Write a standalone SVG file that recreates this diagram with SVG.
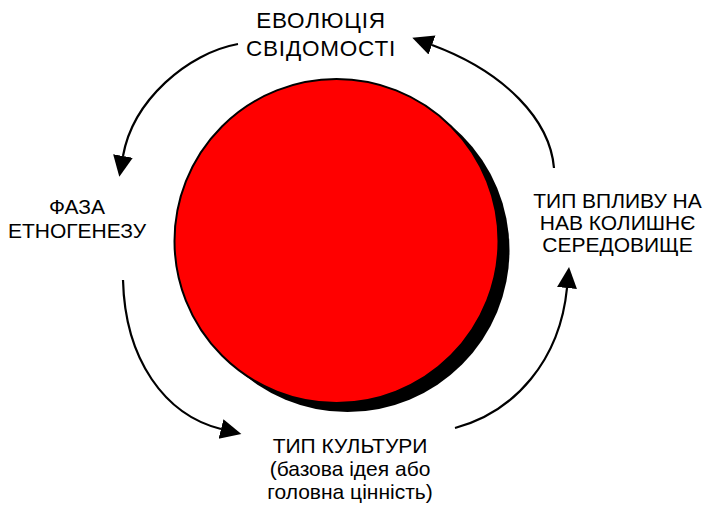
<svg xmlns="http://www.w3.org/2000/svg" width="706" height="506" viewBox="0 0 706 506">
<style>
.t{font-family:"Liberation Sans",Arial,sans-serif;font-size:21px;fill:#000;text-anchor:middle}
.top{font-size:22.5px;letter-spacing:0.8px}
.c{fill:none;stroke:#000;stroke-width:2.2}
</style>
<defs>
<marker id="ah" markerUnits="userSpaceOnUse" markerWidth="22" markerHeight="22" refX="0" refY="10" orient="auto" viewBox="0 0 22 20">
<path d="M0,0 L21,10 L0,20 z" fill="#000"/>
</marker>
</defs>
<rect width="706" height="506" fill="#fff"/>
<g id="center">
<circle cx="347.5" cy="250" r="162" fill="#000"/>
<circle cx="336.5" cy="241" r="162" fill="#ff0000" stroke="#000" stroke-width="2"/>
</g>
<g id="connectors">
<path class="c" d="M238,44 C188,53 133,100 123,156" marker-end="url(#ah)"/>
<path class="c" d="M554,168 C550,120 505,72 432,45" marker-end="url(#ah)"/>
<path class="c" d="M123,280 C125,360 165,415 221,429" marker-end="url(#ah)"/>
<path class="c" d="M455,428 C515,412 560,360 567,288" marker-end="url(#ah)"/>
</g>
<g id="n-evolution">
<text class="t top" x="321" y="28">ЕВОЛЮЦІЯ</text>
<text class="t top" x="321" y="56">СВІДОМОСТІ</text>
</g>
<g id="n-phase">
<text class="t" x="77" y="214">ФАЗА</text>
<text class="t" x="77" y="237.5">ЕТНОГЕНЕЗУ</text>
</g>
<g id="n-influence">
<text class="t" x="617.5" y="207.5">ТИП ВПЛИВУ НА</text>
<text class="t" x="617.5" y="229.5">НАВ КОЛИШНЄ</text>
<text class="t" x="617.5" y="251.5">СЕРЕДОВИЩЕ</text>
</g>
<g id="n-culture">
<text class="t" x="350" y="453">ТИП КУЛЬТУРИ</text>
<text class="t" x="350" y="476">(базова ідея або</text>
<text class="t" x="350" y="499">головна цінність)</text>
</g>
</svg>
